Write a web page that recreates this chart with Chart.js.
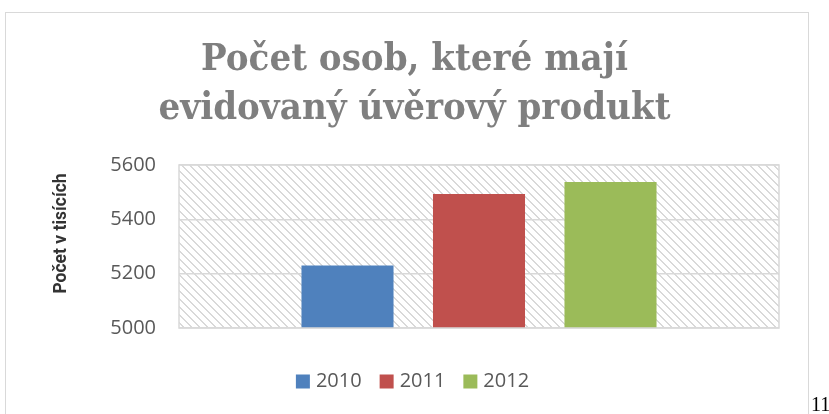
<!DOCTYPE html>
<html>
<head>
<meta charset="utf-8">
<script src="https://cdn.jsdelivr.net/npm/chart.js@4"></script>
<style>
  html, body { margin: 0; padding: 0; background: #fff; }
  #wrap { position: relative; width: 829px; height: 414px; overflow: hidden; }
  #frame { position: absolute; left: 5px; top: 12px; width: 802px; height: 420px; border: 1px solid #d9d9d9; }
  #chart { position: absolute; left: 0; top: 0; }
  #page { position: absolute; left: 811px; top: 393px; font: 20px "Liberation Serif", serif; color: #000; }
</style>
</head>
<body>
<div id="wrap">
  <div id="frame"></div>
  <canvas id="chart" width="829" height="414"></canvas>
  <div id="page">11</div>
</div>
<script>
const categories = [''];
const years = ['2010', '2011', '2012'];
const counts = [5230, 5493, 5537]; // v tisících
const colors = ['#4f81bd', '#c0504d', '#9bbb59'];
const yTicks = [5000, 5200, 5400, 5600];

// hatch "wide downward diagonal" behind the plot
function hatch() {
  const c = document.createElement('canvas');
  c.width = 8; c.height = 8;
  const g = c.getContext('2d');
  g.fillStyle = '#fff';
  g.fillRect(0, 0, 8, 8);
  g.fillStyle = '#d9d9d9';
  for (let i = 0; i < 8; i++) {
    g.fillRect(i, i, 1, 1);
    g.fillRect((i + 1) % 8, i, 1, 1);
  }
  return g.createPattern(c, 'repeat');
}

const plotBg = {
  id: 'plotBg',
  beforeDraw(chart) {
    const { ctx, chartArea: a } = chart;
    ctx.save();
    ctx.fillStyle = hatch();
    ctx.fillRect(a.left, a.top, a.right - a.left, a.bottom - a.top);
    ctx.restore();
  },
  afterDatasetsDraw(chart) {
    const { ctx, chartArea: a } = chart;
    ctx.save();
    ctx.strokeStyle = '#d9d9d9';
    ctx.lineWidth = 1.5;
    ctx.strokeRect(a.left, a.top, a.right - a.left, a.bottom - a.top);
    ctx.restore();
  }
};

new Chart(document.getElementById('chart'), {
  type: 'bar',
  data: {
    labels: categories,
    datasets: years.map((y, i) => ({
      label: y,
      data: [counts[i]],
      backgroundColor: colors[i],
      borderWidth: 0,
      categoryPercentage: 0.6575,
      barPercentage: 0.70
    }))
  },
  options: {
    responsive: false,
    animation: false,
    layout: { padding: { left: 50, right: 50, top: 0, bottom: 12.5 } },
    plugins: {
      title: {
        display: true,
        text: ['Počet osob, které mají', 'evidovaný úvěrový produkt'],
        color: '#7f7f7f',
        font: { family: '"DejaVu Serif Condensed", "DejaVu Serif", serif', size: 38, weight: 'bold', lineHeight: '49px' },
        padding: { top: 36, bottom: 31 }
      },
      legend: {
        position: 'bottom',
        labels: {
          usePointStyle: true,
          pointStyle: 'rect',
          boxWidth: 6,
          boxHeight: 14,
          padding: 22,
          color: '#595959',
          font: { family: '"Open Sans", sans-serif', size: 20 }
        }
      },
      tooltip: { enabled: false }
    },
    scales: {
      x: {
        ticks: { display: false },
        grid: { display: false },
        border: { display: false },
        afterFit(s) { s.height = 21.5; }
      },
      y: {
        min: 5000,
        max: 5600,
        afterBuildTicks(s) { s.ticks = yTicks.map(v => ({ value: v })); },
        ticks: {
          padding: 23,
          color: '#595959',
          font: { family: '"Open Sans", sans-serif', size: 20 },
          callback: v => String(v)
        },
        grid: { color: '#d9d9d9', lineWidth: 1.5, drawTicks: false },
        border: { display: false },
        title: {
          display: true,
          // leading spaces nudge the rotated label up like in the original
          text: '      Počet v tisících',
          color: '#333333',
          font: { family: 'Roboto, sans-serif', size: 17.5, weight: 'bold' },
          padding: { top: 1, bottom: 0 }
        },
        afterFit(s) { s.width = 129; }
      }
    }
  },
  plugins: [plotBg]
});
</script>
</body>
</html>
